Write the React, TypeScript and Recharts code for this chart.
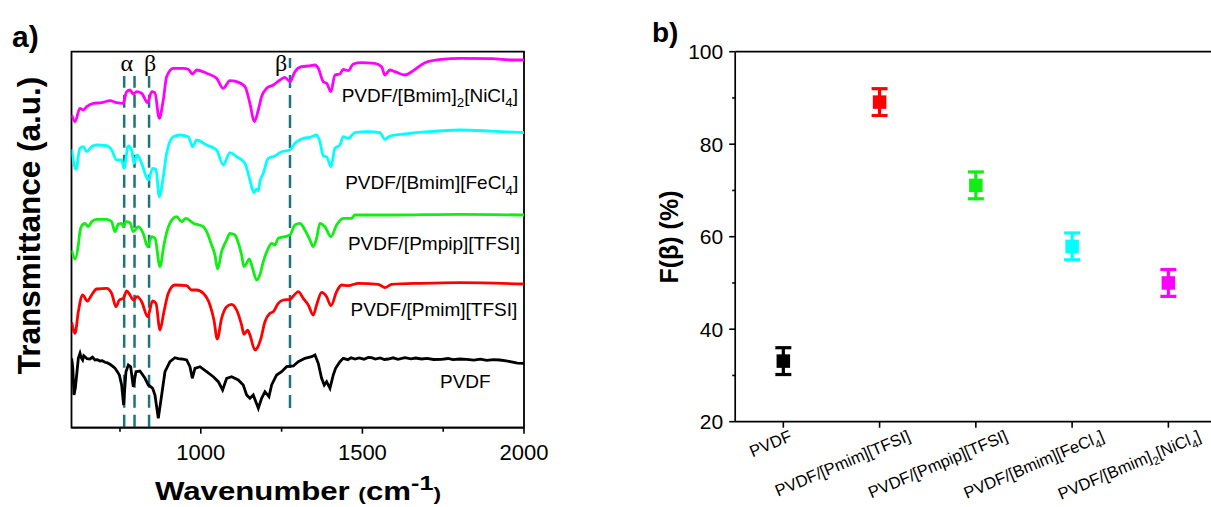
import React from 'react';
import {
  LineChart, Line, XAxis, YAxis, ReferenceLine, ReferenceArea,
  ScatterChart, Scatter, ErrorBar,
} from 'recharts';

const FONT = '"Liberation Sans", Arial, Helvetica, sans-serif';

// ---------- Panel a: FTIR spectra (wavenumber, transmittance a.u. with offsets) ----------
const WN_TICKS = [750, 1000, 1250, 1500, 1750, 2000];
const WN_LABELED = [1000, 1500, 2000];
const BETA_ALPHA_LINES = [763, 795, 840, 1276];

const pvdfSpectrum = [
  [600.5, 69.4], [604, 60], [607.7, 32.7], [612, 40], [616, 52.7], [621.1, 69.4], [626.3, 74.4], [630, 70],
  [634.5, 67.7], [638, 72], [641.7, 71], [648, 69], [657.2, 68.7], [665, 70.5], [672.7, 67.7], [680, 68],
  [688.1, 66.7], [695, 67], [703.6, 65.4], [711, 64.8], [719, 63.4], [727, 61.5], [734.5, 59.4], [742, 56],
  [748, 52.7], [755.1, 42.7], [761.3, 22.7], [768.5, 56], [775.8, 62.7], [783, 61], [791.2, 41], [799.5, 56],
  [811.8, 56.7], [820, 53], [827.3, 49.4], [837.6, 42.7], [845, 41], [851, 39.4], [858.2, 32.7], [868.5, 9.4],
  [879, 32.7], [889.2, 56], [904.6, 66], [920, 70], [930, 69], [940.7, 68.7], [956.2, 67.7], [966.5, 61],
  [973.7, 49.4], [982, 59.4], [997.4, 61], [1018, 56], [1038.7, 51], [1054.1, 46], [1067.5, 37.7], [1080, 49.4],
  [1095.4, 51], [1116, 47.7], [1131.4, 42.7], [1141.8, 32.7], [1152, 29.4], [1162.4, 32.7], [1178, 19.4],
  [1188.2, 29.4], [1198.5, 36], [1210.9, 31], [1219.2, 42.7], [1234.6, 52.7], [1250.1, 56], [1265.5, 61],
  [1286.2, 61.7], [1301.6, 66], [1322.2, 69.4], [1342.9, 71], [1353.2, 72.7], [1363.5, 64.4], [1373.8, 49.4],
  [1382.1, 42.7], [1389.3, 46], [1399.6, 39.4], [1409.9, 52.7], [1417.1, 59.4], [1430.5, 66], [1440.8, 69.4],
  [1455, 68], [1465, 70], [1476.9, 68.7], [1490, 69.8], [1505, 68.5], [1518, 70.2], [1528.5, 70], [1540, 68.6],
  [1555, 69.8], [1568, 68.2], [1580, 68.7], [1595, 69.9], [1610, 68.4], [1631.6, 70], [1650, 68.8], [1665, 69.7],
  [1683.1, 68.7], [1700, 69.4], [1720, 68.2], [1745, 68.4], [1765, 69.2], [1780, 68], [1801.7, 68.7], [1822, 68.4],
  [1845, 67.6], [1865, 68.5], [1885, 67.4], [1905, 68], [1925, 67.7], [1945, 66.8], [1965, 65.5], [1980, 64.6],
  [2000, 64.4],
];

const pmimSpectrum = [
  [600.5, 105.4], [611, 94.4], [621.1, 116], [634.5, 132.7], [649, 126.7], [662.3, 132.7], [677.8, 138.7],
  [708.7, 139.4], [724.2, 134.4], [737.6, 121], [748, 127.7], [760.3, 129.4], [770.6, 136.7], [781, 132.7],
  [791.2, 127.7], [803.6, 131], [817, 126], [835.6, 111], [851, 126.7], [861.3, 124.4], [873.7, 97.7], [886, 116],
  [899.5, 134.4], [920, 142.7], [956.2, 142], [971.7, 137.7], [987, 137.7], [1007.7, 134.4], [1028.4, 122.7],
  [1040.7, 107.7], [1051, 88.7], [1064.4, 109.4], [1080, 121], [1095.4, 123.4], [1110.8, 117.7], [1126.3, 102.7],
  [1133.5, 93.4], [1145, 97.5], [1152, 92.7], [1167.5, 77.7], [1176, 80.5], [1185, 88], [1198.5, 106],
  [1214, 114.4], [1224.3, 116], [1239.8, 124.4], [1255.2, 127.7], [1275.9, 128.4], [1291.3, 133.4],
  [1301.6, 136], [1317, 129.4], [1332.6, 122.7], [1348, 112.7], [1358.3, 122.7], [1373.8, 135.4], [1389.3, 131],
  [1402.7, 122], [1420.2, 136], [1435.7, 142.7], [1456.3, 142], [1487.2, 144.4], [1549, 143.4], [1569.7, 140],
  [1590.3, 143.4], [1683, 144.4], [1801.7, 145], [2000, 143.7],
];

const pmpipSpectrum = [
  [600.5, 177.7], [611, 168.7], [621.1, 182.7], [626, 196], [633, 202.7], [641.7, 204.4], [652, 201], [662.3, 206],
  [677.8, 208.4], [708.7, 208.4], [724.2, 206], [734.5, 196], [744.8, 203.7], [755.2, 204.4], [760.3, 201],
  [768.5, 206], [781, 205], [791.2, 196], [806.7, 201], [822.2, 194], [835.6, 181], [848, 191], [858.3, 189.4],
  [873.7, 161], [886, 182.7], [894.3, 195], [915, 209.4], [925.3, 211], [940.7, 206], [954, 209.4], [976.8, 204.4],
  [1007.7, 201], [1018, 196], [1033.5, 182.7], [1043.8, 172.7], [1052, 158.7], [1064.4, 176], [1080, 187.7],
  [1090.2, 194.4], [1105.7, 192.7], [1115, 186], [1126.3, 172.7], [1133.5, 161], [1141.8, 164.4], [1150, 168.7],
  [1160.3, 159.4], [1172.7, 147.7], [1183, 153], [1193.4, 166], [1208.8, 179.4], [1219.2, 184.4], [1229.5, 182.7],
  [1239.8, 189.4], [1260.4, 191], [1275.9, 192.7], [1291.3, 202.7], [1306.8, 204.4], [1322.2, 197.7],
  [1337.7, 187.7], [1348, 181], [1358.3, 189.4], [1368.6, 204.4], [1384, 201], [1402.7, 191], [1420.2, 202.7],
  [1440.8, 209.4], [1466.6, 209.4], [1477, 212.7], [1580, 212.7], [1801.7, 213.4], [2000, 212.7],
];

const fecl4Spectrum = [
  [600.5, 278.4], [614, 258.4], [626, 279.4], [636.6, 281], [647, 276], [662.3, 281], [677.8, 282.7], [708.7, 282],
  [724.2, 277.7], [739.7, 267.7], [755.2, 267.7], [762.4, 259.4], [775.8, 281.7], [786, 277.7], [793.3, 264.4],
  [803.6, 272.7], [817, 264.4], [837.6, 247.7], [851, 259.4], [861.3, 258.4], [871.6, 231], [884, 251],
  [894.3, 274.4], [915, 291], [935.6, 292.7], [961.3, 291], [974.7, 281], [987, 287.7], [1018, 282.7],
  [1049, 277.7], [1069.6, 262.7], [1090.2, 275], [1110.8, 271], [1136.6, 264.4], [1152, 247.7], [1164.4, 235],
  [1172, 238.5], [1178, 237], [1183, 246], [1193.4, 254.4], [1208.8, 269.4], [1229.5, 271.7], [1250, 276],
  [1275.9, 277.7], [1291.3, 284.4], [1317, 289.4], [1337.7, 290.4], [1358.3, 292.7], [1368.6, 286], [1379, 271.7],
  [1389.3, 271], [1402.7, 261], [1415, 279.4], [1430.5, 282.7], [1440.8, 291], [1456.3, 289.4], [1477, 295],
  [1518, 296], [1554.2, 295], [1569.7, 288.4], [1585, 291.7], [1631.6, 293.7], [1703.7, 296], [1801.7, 297.7],
  [1900, 296.5], [2000, 295],
];

const nicl4Spectrum = [
  [600.5, 312.7], [611, 306], [626, 319.4], [636.6, 317.7], [647, 321], [667.5, 324.4], [693.3, 325], [719, 327],
  [739.7, 325], [760.3, 324.4], [770.6, 336], [781, 337.7], [791.2, 333.7], [801.5, 336], [817, 334.4],
  [835.6, 325], [848, 336], [858, 335], [871.6, 309.4], [884, 327.7], [894.3, 351], [915, 359.4], [946, 359.4],
  [961.3, 358.4], [974.7, 353.7], [987, 357.7], [1018, 354.4], [1049, 349.4], [1069.6, 339.4], [1090.2, 347],
  [1110.8, 346], [1136.6, 341], [1152, 324.4], [1165.5, 306], [1178, 317.7], [1188, 331], [1203.7, 339.4],
  [1224.3, 342.7], [1245, 347.7], [1260.4, 350.4], [1275.9, 346], [1291.3, 356], [1312, 361], [1332.6, 361.7],
  [1353.2, 362.7], [1363.5, 359.4], [1379, 346], [1389.3, 344.4], [1402.7, 336], [1415, 352.7], [1430.5, 353.7],
  [1440.8, 358.4], [1456.3, 357], [1471.7, 363.7], [1497.5, 365], [1538.8, 364.4], [1559.4, 361], [1569.7, 352.7],
  [1585, 357.7], [1600.6, 356], [1631.6, 352.7], [1657.3, 357], [1693.4, 365], [1745, 368.4], [1801.7, 369.4],
  [1900, 369], [1966.6, 367.7], [2000, 367.7],
];

// ---------- Panel b: beta-phase fraction ----------
const CATEGORIES = ['PVDF', 'PVDF/[Pmim][TFSI]', 'PVDF/[Pmpip][TFSI]', 'PVDF/[Bmim][FeCl_4]', 'PVDF/[Bmim]_2[NiCl_4]'];
const F_BETA = [33.1, 89.1, 71.1, 57.9, 50.0];
const F_BETA_ERR = [2.9, 2.9, 2.9, 2.9, 2.9];
const F_TICKS = [20, 30, 40, 50, 60, 70, 80, 90, 100];
const COLORS = ['#000000', '#ff0000', '#11ee11', '#00ffff', '#ff00ff'];

const SPECTRA = [
  { key: 'pvdf', data: pvdfSpectrum, color: COLORS[0], type: 'linear' },
  { key: 'pmim', data: pmimSpectrum, color: COLORS[1], type: 'monotone' },
  { key: 'pmpip', data: pmpipSpectrum, color: COLORS[2], type: 'monotone' },
  { key: 'fecl4', data: fecl4Spectrum, color: COLORS[3], type: 'monotone' },
  { key: 'nicl4', data: nicl4Spectrum, color: COLORS[4], type: 'monotone' },
];

// ---------- helpers ----------
let _ctx: CanvasRenderingContext2D | null = null;
const measure = (t: string, size: number) => {
  if (!_ctx) _ctx = document.createElement('canvas').getContext('2d');
  if (!_ctx) return t.length * size * 0.55;
  _ctx.font = `${size}px "Liberation Sans", Arial, sans-serif`;
  return _ctx.measureText(t).width;
};
const splitRich = (s: string) => s.split(/_(\d)/);
const richWidth = (s: string, size: number) =>
  splitRich(s).reduce((acc, p, i) => acc + measure(p, i % 2 ? size * 0.7 : size), 0);
const rich = (s: string, size: number) => {
  const parts = splitRich(s);
  const out: any[] = [];
  let shifted = false;
  parts.forEach((p, i) => {
    if (!p) return;
    if (i % 2) {
      out.push(<tspan key={i} fontSize={size * 0.7} dy={size * 0.3}>{p}</tspan>);
      shifted = true;
    } else {
      out.push(<tspan key={i} dy={shifted ? -size * 0.3 : 0}>{p}</tspan>);
      shifted = false;
    }
  });
  return out;
};

// Panel a geometry
const A_BOTTOM = 427.7;
const WnTick = (props: any) => {
  const { x, payload } = props;
  const major = WN_LABELED.includes(payload.value);
  return (
    <g>
      <line x1={x} x2={x} y1={A_BOTTOM} y2={A_BOTTOM + (major ? 6 : 4)} stroke="#000" strokeWidth={1.6} />
      {major && (
        <text x={x} y={460} textAnchor="middle" fontSize={22} fontFamily={FONT} fill="#000">
          {payload.value}
        </text>
      )}
    </g>
  );
};

// Panel b geometry (in chart-b svg coords)
const B_AXIS_X = 95.2;
const B_BOTTOM = 421.7;
const FTick = (props: any) => {
  const { y, payload } = props;
  const major = payload.value % 20 === 0;
  return (
    <g>
      <line x1={B_AXIS_X} x2={B_AXIS_X - (major ? 6 : 3)} y1={y} y2={y} stroke="#000" strokeWidth={1.6} />
      {major && (
        <text x={B_AXIS_X - 12} y={y} dy="0.36em" textAnchor="end" fontSize={21} fontFamily={FONT} fill="#000">
          {payload.value}
        </text>
      )}
    </g>
  );
};
const CatTick = (props: any) => {
  const { x, payload } = props;
  const label = CATEGORIES[Math.round(payload.value) - 1];
  if (!label) return null;
  const size = 16.5;
  const L = richWidth(label, size);
  const px = x + 0.22 * L;
  const py = B_BOTTOM + 18.5;
  return (
    <text x={px} y={py} textAnchor="end" fontSize={size} fontFamily={FONT} fill="#000"
      transform={`rotate(-23 ${px} ${py})`}>
      {rich(label, size)}
    </text>
  );
};

const SquareShape = (color: string) => (props: any) => (
  <rect x={props.cx - 6.75} y={props.cy - 6.75} width={13.5} height={13.5} fill={color} />
);

export default function App() {
  const seriesLabels = [
    { text: 'PVDF/[Bmim]_2[NiCl_4]', x: 518, y: 101.7, anchor: 'end' },
    { text: 'PVDF/[Bmim][FeCl_4]', x: 518.3, y: 189, anchor: 'end' },
    { text: 'PVDF/[Pmpip][TFSI]', x: 520, y: 249.5, anchor: 'end' },
    { text: 'PVDF/[Pmim][TFSI]', x: 517.3, y: 316, anchor: 'end' },
    { text: 'PVDF', x: 440, y: 388.3, anchor: 'start' },
  ];
  const greek = '"Liberation Serif", "DejaVu Serif", serif';
  return (
    <div style={{ position: 'absolute', left: 0, top: 0, width: 1211, height: 507, overflow: 'hidden', background: '#fff', fontFamily: FONT }}>
      <div style={{ position: 'absolute', left: 0, top: 0 }}>
        <LineChart width={580} height={507} margin={{ top: 51.7, right: 56, bottom: 49.3, left: 71.5 }}>
          <XAxis type="number" dataKey="w" domain={[600, 2000]} ticks={WN_TICKS} interval={0}
            allowDataOverflow tickLine={false} tick={<WnTick />} height={30}
            axisLine={{ stroke: '#000', strokeWidth: 1.8 }} />
          <YAxis type="number" domain={[0, 376]} hide allowDataOverflow />
          <ReferenceArea x1={600} x2={2000} y1={0} y2={376} fill="none" stroke="#000" strokeWidth={1.8} ifOverflow="visible" />
          {BETA_ALPHA_LINES.map((w, i) => (
            <ReferenceLine key={w}
              segment={i < 3 ? [{ x: w, y: 0 }, { x: w, y: 351.7 }] : [{ x: w, y: 19.7 }, { x: w, y: 369.7 }]}
              stroke="#1d747a" strokeWidth={2.5} strokeDasharray="13 7" ifOverflow="visible" />
          ))}
          {SPECTRA.map((s) => (
            <Line key={s.key} data={s.data.map(([w, v]) => ({ w, v }))} dataKey="v" type={s.type as any}
              stroke={s.color} strokeWidth={2.8} dot={false} activeDot={false} isAnimationActive={false} />
          ))}
        </LineChart>
      </div>

      <div style={{ position: 'absolute', left: 640, top: 0 }}>
        <ScatterChart width={590} height={507} margin={{ top: 51.7, right: 13.5, bottom: 55.3, left: 35.2 }}>
          <XAxis type="number" dataKey="x" domain={[0.5, 5.5]} ticks={[1, 2, 3, 4, 5]} interval={0}
            allowDataOverflow tickSize={6} tickLine={{ stroke: '#000', strokeWidth: 1.6 }}
            axisLine={{ stroke: '#000', strokeWidth: 1.7 }} tick={<CatTick />} height={30} />
          <YAxis type="number" dataKey="y" domain={[20, 100]} ticks={F_TICKS} interval={0} width={60}
            allowDataOverflow tickLine={false} tick={<FTick />}
            axisLine={{ stroke: '#000', strokeWidth: 1.7 }} />
          <ReferenceLine y={100} stroke="#000" strokeWidth={1.7} ifOverflow="visible" />
          <ReferenceLine x={5.5} stroke="#000" strokeWidth={1.7} ifOverflow="visible" />
          {CATEGORIES.map((c, i) => (
            <Scatter key={c} data={[{ x: i + 1, y: F_BETA[i], e: F_BETA_ERR[i] }]} fill={COLORS[i]}
              shape={SquareShape(COLORS[i])} isAnimationActive={false}>
              <ErrorBar dataKey="e" direction="y" width={8} stroke={COLORS[i]} strokeWidth={3.2} isAnimationActive={false} />
            </Scatter>
          ))}
        </ScatterChart>
      </div>

      <svg width={1211} height={507} style={{ position: 'absolute', left: 0, top: 0, pointerEvents: 'none' }}>
        <text x={12} y={47} fontSize={30} fontWeight="bold" fontFamily={FONT} fill="#000">a)</text>
        <text x={652} y={42} fontSize={28} fontWeight="bold" fontFamily={FONT} fill="#000">b)</text>
        <text x={40} y={225.5} transform="rotate(-90 40 225.5)" textAnchor="middle" fontSize={31.5}
          fontWeight="bold" fontFamily={FONT} fill="#000">Transmittance (a.u.)</text>
        <text transform="translate(155 500) scale(1.2 1)" fontSize={26} fontWeight="bold" fontFamily={FONT} fill="#000">
          Wavenumber <tspan fontSize={19}>(</tspan>cm<tspan fontSize={21} dy={-10}>-1</tspan><tspan fontSize={19} dy={10}>)</tspan>
        </text>
        <text x={678} y={237} transform="rotate(-90 678 237)" textAnchor="middle" fontSize={25}
          fontWeight="bold" fontFamily={FONT} fill="#000">F(β) (%)</text>
        <text x={126.7} y={71} textAnchor="middle" fontSize={24} fontFamily={greek} fill="#000">α</text>
        <text x={150} y={71} textAnchor="middle" fontSize={24} fontFamily={greek} fill="#000">β</text>
        <text x={281} y={71} textAnchor="middle" fontSize={24} fontFamily={greek} fill="#000">β</text>
        {seriesLabels.map((l) => (
          <text key={l.text} x={l.x} y={l.y} textAnchor={l.anchor as any} fontSize={19} fontFamily={FONT} fill="#000">
            {rich(l.text, 19)}
          </text>
        ))}
      </svg>
    </div>
  );
}
